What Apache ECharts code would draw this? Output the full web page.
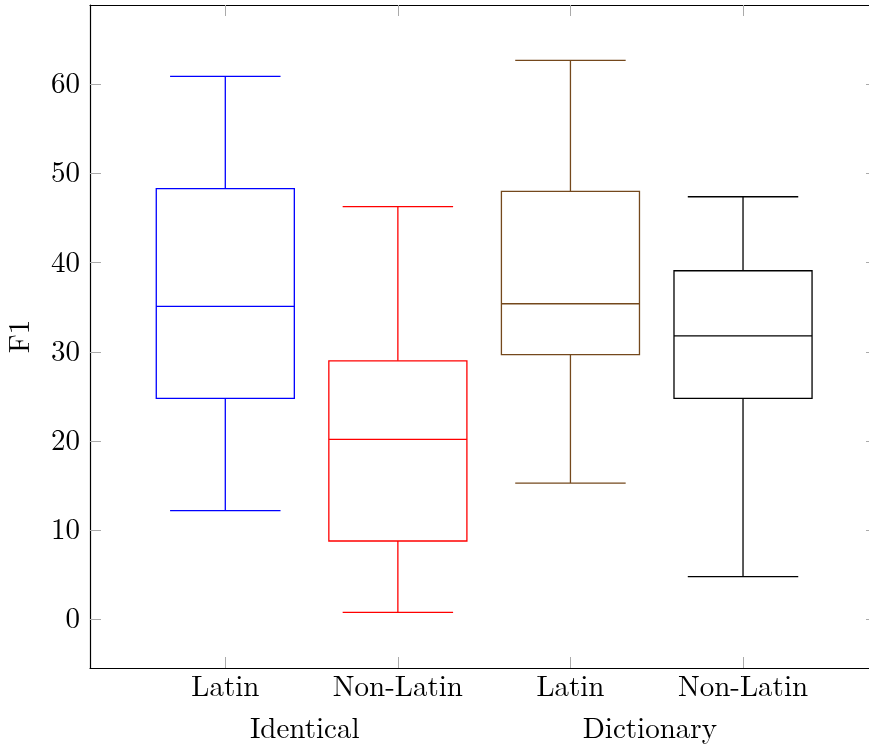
<!DOCTYPE html>
<html>
<head>
<meta charset="utf-8">
<script src="https://cdn.jsdelivr.net/npm/echarts@6/dist/echarts.min.js"></script>
<style>
  html, body { margin: 0; padding: 0; background: #fff; }
  #chart { width: 869px; height: 745px; }
</style>
</head>
<body>
<div id="chart"></div>
<script>
// box positions on the x axis and their labels
const positions = [1, 2, 3, 4];
const categories = ["Latin", "Non-Latin", "Latin", "Non-Latin"];
const groupPositions = [1.46, 3.46];
const groups = ["Identical", "Dictionary"];

// five-number summaries
const lowerWhisker  = [12.2, 0.8, 15.3, 4.8];
const lowerQuartile = [24.8, 8.8, 29.7, 24.8];
const median        = [35.1, 20.2, 35.4, 31.8];
const upperQuartile = [48.3, 29.0, 48.0, 39.1];
const upperWhisker  = [60.9, 46.3, 62.7, 47.4];

const yTicks = [0, 10, 20, 30, 40, 50, 60];
const colors = ["#0000ff", "#ff0000", "#74481c", "#000000"];

const FONT = "'Latin Modern Roman', 'DejaVu Serif', serif";
const FS = 29;
const tickGray = "#aaaaaa";

const data = positions.map((x, i) => [
  x, lowerWhisker[i], lowerQuartile[i], median[i], upperQuartile[i], upperWhisker[i], i
]);

function renderBox(params, api) {
  const x = api.value(0);
  const c = colors[api.value(6)];
  const half = api.size([0.8, 0])[0] / 2;
  const capHalf = half * 0.8;
  const pLo = api.coord([x, api.value(1)]);
  const pQ1 = api.coord([x, api.value(2)]);
  const pMed = api.coord([x, api.value(3)]);
  const pQ3 = api.coord([x, api.value(4)]);
  const pHi = api.coord([x, api.value(5)]);
  const cx = pQ1[0];
  const style = { stroke: c, lineWidth: 1.3, fill: null };
  return {
    type: "group",
    children: [
      { type: "rect", shape: { x: cx - half, y: pQ3[1], width: 2 * half, height: pQ1[1] - pQ3[1] }, style },
      { type: "line", shape: { x1: cx - half, y1: pMed[1], x2: cx + half, y2: pMed[1] }, style },
      { type: "line", shape: { x1: cx, y1: pQ3[1], x2: cx, y2: pHi[1] }, style },
      { type: "line", shape: { x1: cx, y1: pQ1[1], x2: cx, y2: pLo[1] }, style },
      { type: "line", shape: { x1: cx - capHalf, y1: pHi[1], x2: cx + capHalf, y2: pHi[1] }, style },
      { type: "line", shape: { x1: cx - capHalf, y1: pLo[1], x2: cx + capHalf, y2: pLo[1] }, style }
    ]
  };
}

const xMin = 0.216, xMax = 4.73;
const yMin = -5.44, yMax = 68.9;

const chart = echarts.init(document.getElementById("chart"), null, { renderer: "canvas" });
chart.setOption({
  animation: false,
  grid: { left: 90, right: 0, top: 5, bottom: 77, containLabel: false, outerBoundsMode: "none" },
  xAxis: [
    {
      type: "value", min: xMin, max: xMax, position: "bottom",
      axisLine: { onZero: false, lineStyle: { color: "#000", width: 1.2 } },
      axisTick: { inside: true, length: 11, customValues: positions, lineStyle: { color: tickGray } },
      axisLabel: {
        customValues: positions, margin: 5,
        formatter: v => categories[positions.indexOf(Math.round(v))] || "",
        fontFamily: FONT, fontSize: FS, color: "#000"
      },
      splitLine: { show: false }
    },
    {
      type: "value", min: xMin, max: xMax, position: "bottom",
      axisLine: { show: false, onZero: false }, axisTick: { show: false },
      axisLabel: {
        customValues: groupPositions, margin: 47,
        formatter: v => groups[groupPositions.findIndex(g => Math.abs(g - v) < 1e-6)] || "",
        fontFamily: FONT, fontSize: FS, color: "#000"
      },
      splitLine: { show: false }
    },
    {
      type: "value", min: xMin, max: xMax, position: "top",
      axisLine: { onZero: false, lineStyle: { color: "#000", width: 1.2 } },
      axisTick: { inside: true, length: 11, customValues: positions, lineStyle: { color: tickGray } },
      axisLabel: { show: false },
      splitLine: { show: false }
    }
  ],
  yAxis: [
    {
      type: "value", min: yMin, max: yMax, position: "left",
      name: "F1", nameLocation: "middle", nameGap: 55,
      nameTextStyle: { fontFamily: FONT, fontSize: FS, color: "#000" },
      axisLine: { show: true, onZero: false, lineStyle: { color: "#000", width: 1.2 } },
      axisTick: { inside: true, length: 11, customValues: yTicks, lineStyle: { color: tickGray } },
      axisLabel: { customValues: yTicks, margin: 10, fontFamily: FONT, fontSize: FS, color: "#000" },
      splitLine: { show: false }
    },
    {
      type: "value", min: yMin, max: yMax, position: "right",
      axisLine: { show: false, onZero: false },
      axisTick: { inside: true, length: 3, customValues: yTicks, lineStyle: { color: tickGray } },
      axisLabel: { show: false },
      splitLine: { show: false }
    }
  ],
  series: [{
    type: "custom",
    xAxisIndex: 0, yAxisIndex: 0,
    renderItem: renderBox,
    data: data,
    encode: { x: 0, y: [1, 2, 3, 4, 5] },
    clip: false
  }]
});
</script>
</body>
</html>
